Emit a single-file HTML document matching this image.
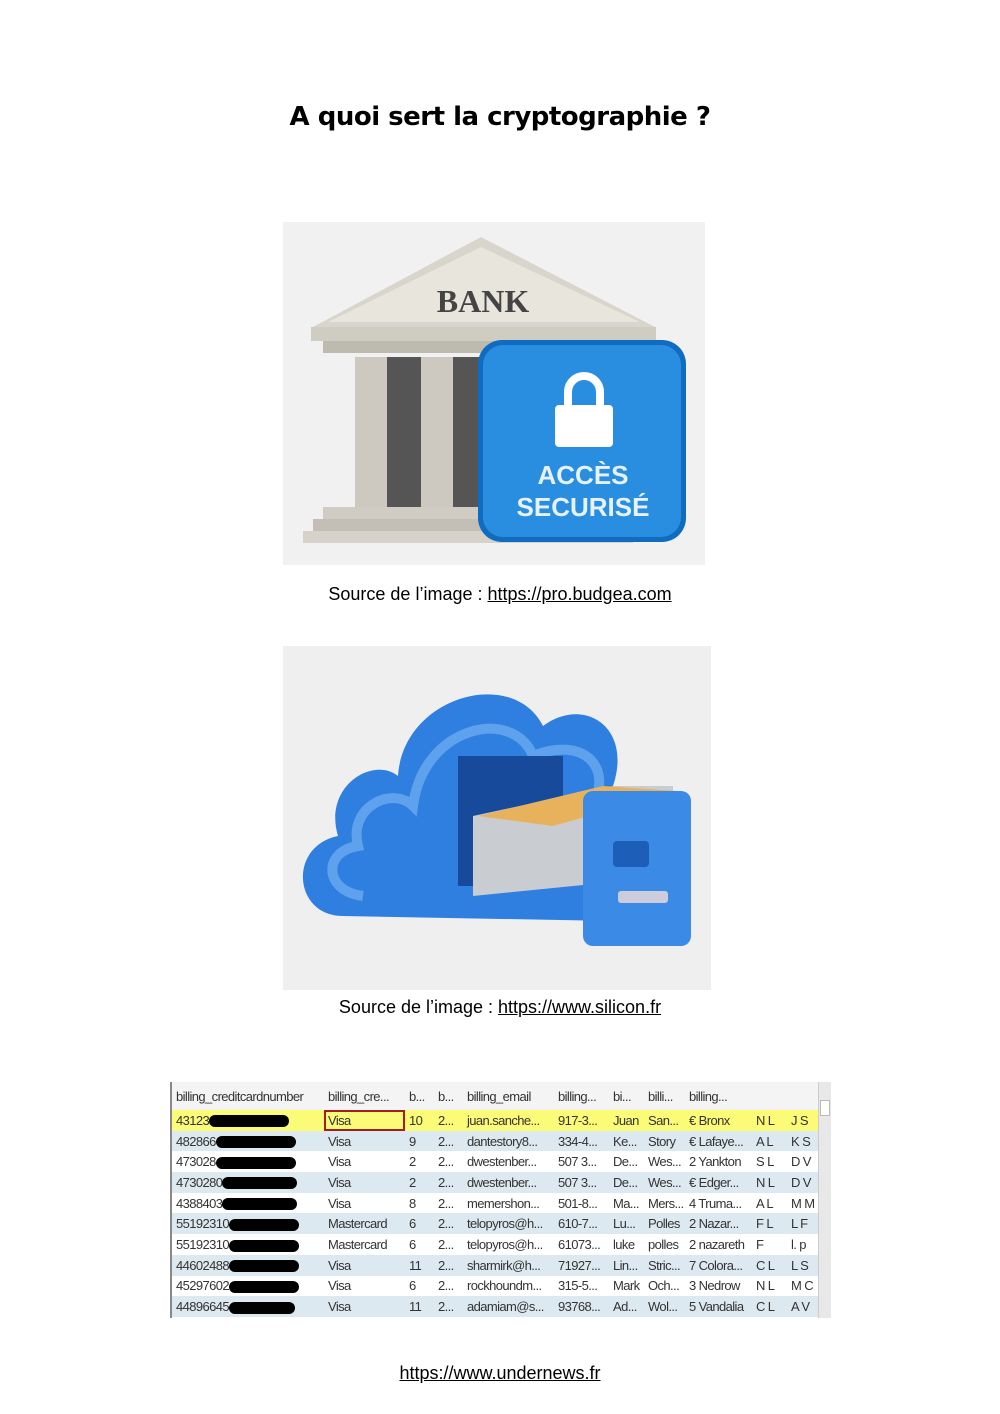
<!DOCTYPE html>
<html><head><meta charset="utf-8"><style>
body{margin:0;width:1000px;height:1414px;background:#fff;position:relative;font-family:"Liberation Sans",sans-serif;overflow:hidden}
.t{position:absolute;left:0;width:1000px;text-align:center}
h1{position:absolute;top:102px;left:0;width:1000px;text-align:center;margin:0;font-family:"DejaVu Sans",sans-serif;font-size:26px;font-weight:bold;letter-spacing:-0.5px}
.cap{font-size:18px}
.cap u{text-decoration:underline}
table{border-collapse:collapse;font-size:13px;color:#333;letter-spacing:-0.6px}
td{height:20.7px;padding:0 0 0 4px;white-space:nowrap;overflow:hidden}
b{display:inline-block;height:12px;background:#000;border-radius:6px;vertical-align:middle}
</style></head><body>
<h1>A quoi sert la cryptographie ?</h1>

<svg style="position:absolute;left:283px;top:222px" width="422" height="343">
<rect width="422" height="343" fill="#f1f1f1"/>
<polygon points="30,105 198,15 372,105" fill="#d8d5cc"/>
<polygon points="45,100 198,25 357,100" fill="#e8e5dc"/>
<text x="200" y="90" text-anchor="middle" font-family="Liberation Serif" font-weight="bold" font-size="32" fill="#444">BANK</text>
<rect x="28" y="105" width="345" height="14" fill="#cfccc2"/>
<rect x="40" y="119" width="320" height="12" fill="#bdbab0"/>
<g fill="#cdc9c0"><rect x="72" y="135" width="32" height="150"/><rect x="138" y="135" width="32" height="150"/></g>
<g fill="#555"><rect x="104" y="135" width="34" height="150"/><rect x="170" y="135" width="34" height="150"/></g>
<rect x="40" y="285" width="300" height="12" fill="#d0ccc3"/>
<rect x="30" y="297" width="320" height="12" fill="#c3bfb6"/>
<rect x="20" y="309" width="330" height="12" fill="#d6d2c9"/>
<rect x="195" y="118" width="208" height="202" rx="24" fill="#0f6cc0"/>
<rect x="200" y="123" width="198" height="192" rx="20" fill="#2a8ee0"/>
<path d="M285,185 v-15 a16,16 0 0 1 32,0 v15" fill="none" stroke="#fff" stroke-width="8"/>
<rect x="272" y="183" width="58" height="42" rx="4" fill="#fff"/>
<text x="300" y="262" text-anchor="middle" font-family="Liberation Sans" font-weight="bold" font-size="26" fill="#e6f2ff">ACCÈS</text>
<text x="300" y="294" text-anchor="middle" font-family="Liberation Sans" font-weight="bold" font-size="26" fill="#e6f2ff">SECURISÉ</text>
</svg>
<div class="t cap" style="top:584px">Source de l’image : <u>https://pro.budgea.com</u></div>

<svg style="position:absolute;left:283px;top:646px" width="428" height="344">
<rect width="428" height="344" fill="#efefef"/>
<path d="M60,270 C10,270 5,200 55,190 C40,140 90,110 115,130 C120,50 230,20 260,80 C300,50 350,80 330,140 C380,150 380,250 330,275 Z" fill="#2f7fe0"/>
<path d="M80,250 C40,245 40,205 75,200 C65,160 110,140 130,160 C140,80 230,60 250,110 C300,90 330,120 310,160" fill="none" stroke="#7fb8f5" stroke-width="10" opacity="0.6"/>
<rect x="175" y="110" width="105" height="130" fill="#174a9a"/>
<polygon points="190,170 330,140 390,140 390,230 190,250" fill="#c9cdd2"/>
<polygon points="195,170 320,140 395,145 270,180" fill="#e8b25c"/>
<rect x="300" y="145" width="108" height="155" rx="10" fill="#3b8ae6"/>
<rect x="330" y="195" width="36" height="26" rx="4" fill="#1d5fb8"/>
<rect x="335" y="245" width="50" height="12" rx="3" fill="#ccd"/>
</svg>
<div class="t cap" style="top:997px">Source de l’image : <u>https://www.silicon.fr</u></div>

<div style="position:absolute;left:170px;top:1082px;width:648px;height:236px;border-left:2px solid #888;overflow:hidden">
<table style="width:648px;table-layout:fixed">
<colgroup><col style="width:152px"><col style="width:81px"><col style="width:29px"><col style="width:29px"><col style="width:91px"><col style="width:55px"><col style="width:35px"><col style="width:41px"><col style="width:67px"><col style="width:35px"><col></colgroup>
<tr style="background:#f4f4f4;height:28px"><td>billing_creditcardnumber</td><td>billing_cre...</td><td>b...</td><td>b...</td><td>billing_email</td><td>billing...</td><td>bi...</td><td>billi...</td><td>billing...</td><td></td><td></td></tr>
<tr style="background:#fbfb78"><td>43123<b style="width:80px"></b></td><td style="outline:2px solid #a02020;outline-offset:-2px">Visa</td><td>10</td><td>2...</td><td>juan.sanche...</td><td>917-3...</td><td>Juan</td><td>San...</td><td>€ Bronx</td><td>N L</td><td>J S</td></tr>
<tr style="background:#dde9f1"><td>482866<b style="width:80px"></b></td><td>Visa</td><td>9</td><td>2...</td><td>dantestory8...</td><td>334-4...</td><td>Ke...</td><td>Story</td><td>€ Lafaye...</td><td>A L</td><td>K S</td></tr>
<tr><td>473028<b style="width:80px"></b></td><td>Visa</td><td>2</td><td>2...</td><td>dwestenber...</td><td>507 3...</td><td>De...</td><td>Wes...</td><td>2 Yankton</td><td>S L</td><td>D V</td></tr>
<tr style="background:#dde9f1"><td>4730280<b style="width:75px"></b></td><td>Visa</td><td>2</td><td>2...</td><td>dwestenber...</td><td>507 3...</td><td>De...</td><td>Wes...</td><td>€ Edger...</td><td>N L</td><td>D V</td></tr>
<tr><td>4388403<b style="width:75px"></b></td><td>Visa</td><td>8</td><td>2...</td><td>memershon...</td><td>501-8...</td><td>Ma...</td><td>Mers...</td><td>4 Truma...</td><td>A L</td><td>M M</td></tr>
<tr style="background:#dde9f1"><td>55192310<b style="width:70px"></b></td><td>Mastercard</td><td>6</td><td>2...</td><td>telopyros@h...</td><td>610-7...</td><td>Lu...</td><td>Polles</td><td>2 Nazar...</td><td>F L</td><td>L F</td></tr>
<tr><td>55192310<b style="width:70px"></b></td><td>Mastercard</td><td>6</td><td>2...</td><td>telopyros@h...</td><td>61073...</td><td>luke</td><td>polles</td><td>2 nazareth</td><td>F</td><td>l. p</td></tr>
<tr style="background:#dde9f1"><td>44602488<b style="width:70px"></b></td><td>Visa</td><td>11</td><td>2...</td><td>sharmirk@h...</td><td>71927...</td><td>Lin...</td><td>Stric...</td><td>7 Colora...</td><td>C L</td><td>L S</td></tr>
<tr><td>45297602<b style="width:70px"></b></td><td>Visa</td><td>6</td><td>2...</td><td>rockhoundm...</td><td>315-5...</td><td>Mark</td><td>Och...</td><td>3 Nedrow</td><td>N L</td><td>M C</td></tr>
<tr style="background:#dde9f1"><td>44896645<b style="width:66px"></b></td><td>Visa</td><td>11</td><td>2...</td><td>adamiam@s...</td><td>93768...</td><td>Ad...</td><td>Wol...</td><td>5 Vandalia</td><td>C L</td><td>A V</td></tr>
</table>
</div>
<div style="position:absolute;left:818px;top:1082px;width:12px;height:236px;background:#e8e8e8;border-left:1px solid #ccc"></div>
<div style="position:absolute;left:820px;top:1100px;width:8px;height:14px;background:#fff;border:1px solid #bbb"></div>

<div class="t cap" style="top:1363px"><u>https://www.undernews.fr</u></div>
</body></html>
